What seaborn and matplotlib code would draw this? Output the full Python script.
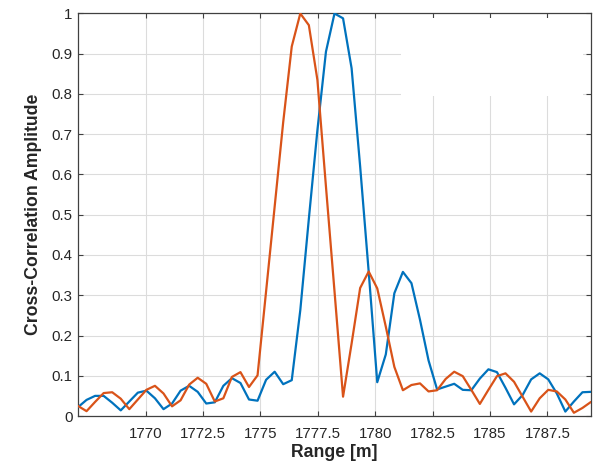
import numpy as np
import pandas as pd
import matplotlib
matplotlib.use("Agg")
import matplotlib.pyplot as plt
from matplotlib.patches import Rectangle
from matplotlib.ticker import FormatStrFormatter
import seaborn as sns

# Range bins (uniformly sampled)
range_start = 1767.05
range_stop = 1789.40
n_bins = 61

blue_values = [0.022, 0.040, 0.050, 0.050, 0.033, 0.014, 0.036, 0.058, 0.063, 0.044,
               0.017, 0.031, 0.063, 0.075, 0.060, 0.031, 0.034, 0.075, 0.094, 0.082,
               0.041, 0.038, 0.090, 0.110, 0.079, 0.089, 0.263, 0.490, 0.710, 0.905,
               1.000, 0.988, 0.864, 0.620, 0.358, 0.084, 0.153, 0.305, 0.358, 0.330,
               0.239, 0.138, 0.066, 0.073, 0.080, 0.065, 0.064, 0.093, 0.116, 0.109,
               0.070, 0.029, 0.052, 0.091, 0.106, 0.091, 0.056, 0.011, 0.036, 0.059, 0.060]

orange_values = [0.025, 0.012, 0.035, 0.057, 0.059, 0.043, 0.017, 0.041, 0.065, 0.075,
                 0.056, 0.024, 0.039, 0.078, 0.095, 0.080, 0.036, 0.044, 0.097, 0.109,
                 0.072, 0.101, 0.310, 0.520, 0.730, 0.918, 1.000, 0.971, 0.835, 0.570,
                 0.310, 0.048, 0.180, 0.318, 0.359, 0.317, 0.222, 0.122, 0.064, 0.077,
                 0.081, 0.061, 0.064, 0.092, 0.110, 0.099, 0.065, 0.030, 0.065, 0.099,
                 0.106, 0.085, 0.048, 0.011, 0.044, 0.065, 0.061, 0.041, 0.008, 0.020, 0.035]

x_ticks = [1770, 1772.5, 1775, 1777.5, 1780, 1782.5, 1785, 1787.5]
y_ticks = [0, 0.1, 0.2, 0.3, 0.4, 0.5, 0.6, 0.7, 0.8, 0.9, 1.0]

ranges = np.linspace(range_start, range_stop, n_bins)
df = pd.concat([
    pd.DataFrame({"Range": ranges, "Amp": blue_values, "Series": "A"}),
    pd.DataFrame({"Range": ranges, "Amp": orange_values, "Series": "B"}),
])

sns.set_theme(style="whitegrid")
plt.rcParams["font.family"] = ["Liberation Sans", "DejaVu Sans"]

fig = plt.figure(figsize=(5.93, 4.61), dpi=100)
ax = fig.add_axes([78 / 593, 45 / 461, 513 / 593, 402.5 / 461])
ax.set_facecolor("white")

sns.lineplot(data=df, x="Range", y="Amp", hue="Series",
             palette={"A": "#0072BD", "B": "#D95319"},
             linewidth=1.6, legend=False, ax=ax, zorder=3)

ax.set_xlim(range_start, range_stop)
ax.set_ylim(0, 1)
ax.set_xticks(x_ticks)
ax.set_yticks(y_ticks)
ax.xaxis.set_major_formatter(FormatStrFormatter("%g"))
ax.yaxis.set_major_formatter(FormatStrFormatter("%g"))

ax.grid(True, color="#dcdcdc", linewidth=0.8)
ax.set_axisbelow(True)

# white box covering the grid in the upper right
ax.add_patch(Rectangle((0.63, 0.795), 0.355, 0.195, transform=ax.transAxes,
                       facecolor="white", edgecolor="none", zorder=1))

for s in ax.spines.values():
    s.set_visible(True)
    s.set_color("#404040")
    s.set_linewidth(0.9)

ax.tick_params(axis="both", which="major", direction="in", length=3.5, width=0.8,
               color="#404040", labelsize=10.8, labelcolor="#262626",
               top=True, right=True, bottom=True, left=True, pad=4)
ax.tick_params(axis="x", pad=8)

ax.set_xlabel("Range [m]", fontsize=12.7, fontweight="bold", color="#262626", labelpad=2)
ax.set_ylabel("Cross-Correlation Amplitude", fontsize=12.7, fontweight="bold",
              color="#262626", labelpad=7)

fig.savefig("out.png", dpi=100, facecolor="white")
